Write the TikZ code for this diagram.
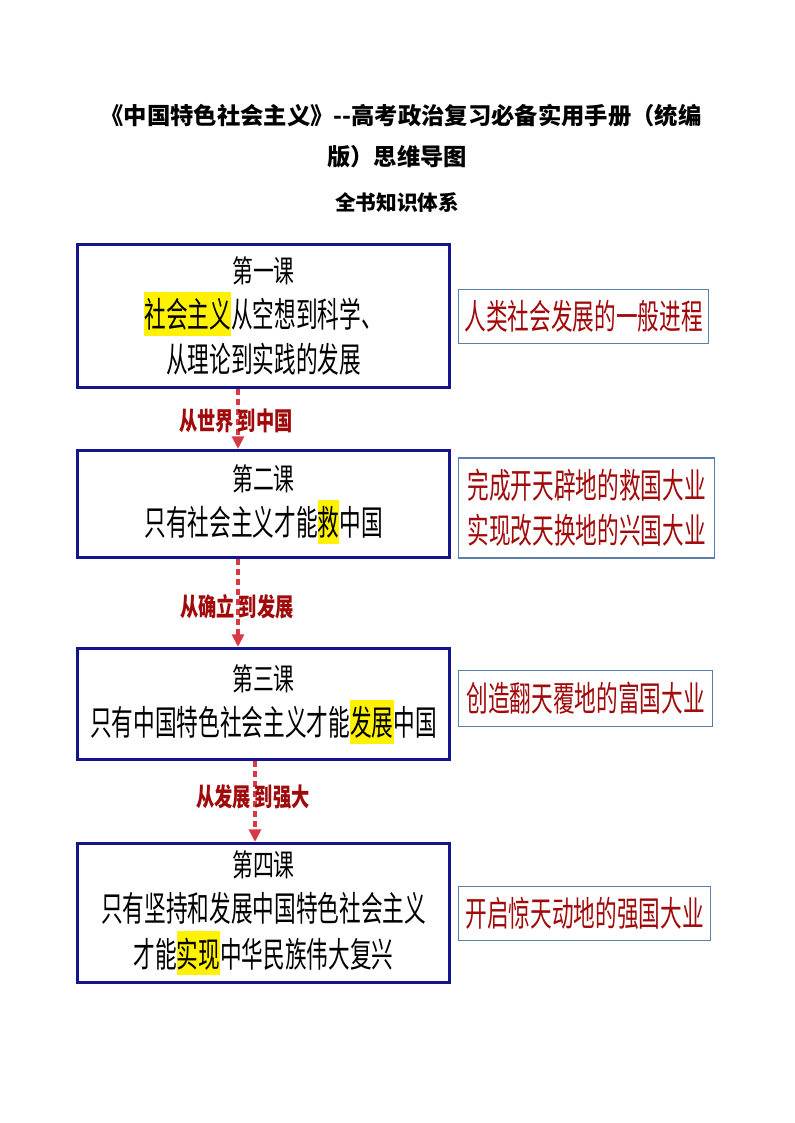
\documentclass[tikz,border=0pt]{standalone}
\usepackage{fontspec}
\usetikzlibrary{arrows.meta}
\setmainfont{Noto Sans CJK SC}
\newfontfamily\titlefont{Noto Sans CJK SC}
\newfontfamily\boxfont[FakeStretch=0.625]{Noto Sans CJK SC}
\newfontfamily\lessonfont[FakeStretch=0.68]{Noto Sans CJK SC}
\newfontfamily\labfont[FakeStretch=0.72]{Noto Sans CJK SC}
\definecolor{navy}{HTML}{14148C}
\definecolor{darkred}{HTML}{A00A0A}
\definecolor{arrowred}{HTML}{D63A44}
\definecolor{edgeblue}{HTML}{5A7FA8}
\newcommand{\hlt}[1]{{\setlength{\fboxsep}{0pt}\colorbox{yellow}{\rule[-6pt]{0pt}{33pt}#1}}}
\newcommand{\lesson}[1]{{\lessonfont\fontsize{23pt}{34pt}\selectfont #1}}
\tikzset{
  mainbox/.style={draw=navy, line width=2.6pt, minimum width=279pt, align=center,
    inner sep=0pt, font=\boxfont\fontsize{26pt}{34pt}\selectfont},
  sidebox/.style={draw=edgeblue, line width=0.8pt, align=center, inner sep=0pt,
    text=darkred, font=\boxfont\fontsize{26pt}{34pt}\selectfont},
  flow/.style={draw=arrowred, line width=2.6pt, dash pattern=on 4.5pt off 3pt,
    -{Triangle[width=9pt,length=9.5pt]}},
  flowlabel/.style={text=darkred, font=\labfont\bfseries\fontsize{19pt}{22pt}\selectfont, inner sep=0pt},
  titletext/.style={font=\titlefont\bfseries\fontsize{17.5pt}{22pt}\selectfont, inner sep=0pt}
}
\begin{document}
\begin{tikzpicture}[x=0.75pt,y=-0.75pt]
\useasboundingbox[fill=white] (0,0) rectangle (794,1123);
% title
\node[titletext] (t1) at (401,116) {《中国特色社会主义》--高考政治复习必备实用手册（统编};
\node[titletext] (t2) at (397,157) {版）思维导图};
\node[titletext, font=\titlefont\bfseries\fontsize{15.5pt}{20pt}\selectfont] (t3) at (397,203) {全书知识体系};
% main boxes
\node[mainbox, minimum height=107pt] (box1) at (263.5,316)
  {\lesson{第一课}\\\hlt{社会主义}从空想到科学、\\从理论到实践的发展};
\node[mainbox, minimum height=80pt] (box2) at (263.5,504)
  {\lesson{第二课}\\只有社会主义才能\hlt{救}中国};
\node[mainbox, minimum height=83pt] (box3) at (263.5,704)
  {\lesson{第三课}\\只有中国特色社会主义才能\hlt{发展}中国};
\node[mainbox, minimum height=104pt] (box4) at (263.5,913)
  {\lesson{第四课}\\只有坚持和发展中国特色社会主义\\才能\hlt{实现}中华民族伟大复兴};
% side boxes
\node[sidebox, minimum width=188pt, minimum height=41pt] (r1) at (583.5,316.5) {人类社会发展的一般进程};
\node[sidebox, minimum width=192.5pt, minimum height=75pt] (r2) at (586.5,508) {完成开天辟地的救国大业\\实现改天换地的兴国大业};
\node[sidebox, minimum width=191pt, minimum height=42.5pt] (r3) at (585.5,698.5) {创造翻天覆地的富国大业};
\node[sidebox, minimum width=189.5pt, minimum height=41pt] (r4) at (584.5,913.5) {开启惊天动地的强国大业};
% arrows
\coordinate (a1) at (238,0);
\coordinate (a2) at (238,0);
\coordinate (a3) at (255,0);
\draw[flow] (box1.south -| a1) -- (box2.north -| a1);
\draw[flow] (box2.south -| a2) -- (box3.north -| a2);
\draw[flow] (box3.south -| a3) -- (box4.north -| a3);
\node[flowlabel] (l1) at (236,421) {从世界\hspace{3pt}到中国};
\node[flowlabel] (l2) at (237,607) {从确立\hspace{3pt}到发展};
\node[flowlabel] (l3) at (253,797) {从发展\hspace{3pt}到强大};
\end{tikzpicture}
\end{document}
